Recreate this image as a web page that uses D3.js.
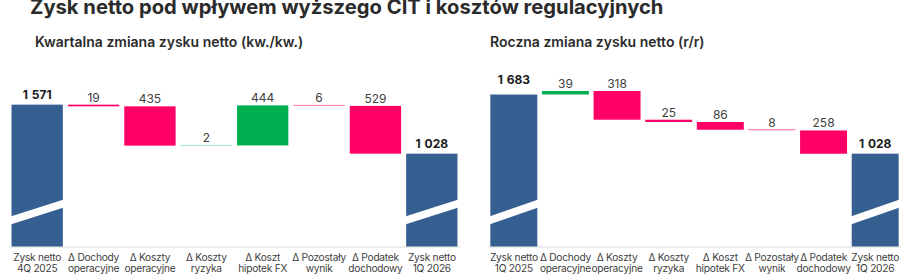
<!DOCTYPE html>
<meta charset="utf-8">
<style>
  body { margin: 0; background: #fff; font-family: Inter, "Noto Sans", sans-serif; }
  .title { font-size: 20.2px; font-weight: 700; fill: #2b2b2b; }
  .subtitle { font-size: 14px; font-weight: 600; fill: #2b2b2b; }
  .val { font-size: 12px; fill: #404040; }
  .total { font-size: 12px; font-weight: 700; fill: #1a1a1a; word-spacing: 1px; }
  .cat { font-size: 10.2px; fill: #404040; letter-spacing: -0.25px; }
</style>
<body>
<svg id="chart" width="907" height="279"></svg>
<script src="https://d3js.org/d3.v7.min.js"></script>
<script>
  // kw./kw. (quarterly)
  var qCats = [["Zysk netto", "4Q 2025"], ["Δ Dochody", "operacyjne"], ["Δ Koszty", "operacyjne"],
               ["Δ Koszty", "ryzyka"], ["Δ Koszt", "hipotek FX"], ["Δ Pozostały", "wynik"],
               ["Δ Podatek", "dochodowy"], ["Zysk netto", "1Q 2026"]];
  var qValues = [1571, -19, -435, 2, 444, -6, -529, 1028];

  // r/r (yearly)
  var yCats = [["Zysk netto", "1Q 2025"], ["Δ Dochody", "operacyjne"], ["Δ Koszty", "operacyjne"],
               ["Δ Koszty", "ryzyka"], ["Δ Koszt", "hipotek FX"], ["Δ Pozostały", "wynik"],
               ["Δ Podatek", "dochodowy"], ["Zysk netto", "1Q 2026"]];
  var yValues = [1683, 39, -318, -25, -86, -8, -258, 1028];

  var BLUE = "#365f91", RED = "#ff0066", GREEN = "#00b050";
  var base = 246.5;

  var fmt = d3.formatLocale({decimal: ",", thousands: " ", grouping: [3], currency: ["", ""]}).format(",d");

  var svg = d3.select("#chart");

  svg.append("text").attr("class", "title").attr("x", 30).attr("y", 14)
     .text("Zysk netto pod wpływem wyższego CIT i kosztów regulacyjnych");

  var y = d3.scaleLinear().domain([0, 1700]).range([base, base - 1700 * 0.0903]);

  function waterfall(cats, values, x0, x1, title, titleX, firstGap) {
    var g = svg.append("g");
    var n = values.length;

    // running totals
    var steps = [], run = 0;
    values.forEach(function (v, i) {
      if (i == 0 || i == n - 1) {
        steps.push({i: i, v: v, lo: 0, hi: v, total: true});
        run = v;
      } else {
        var a = run, b = run + v;
        steps.push({i: i, v: v, lo: Math.min(a, b), hi: Math.max(a, b), total: false});
        run = b;
      }
    });

    var x = d3.scaleBand().domain(d3.range(n)).range([x0, x1]).paddingInner(0.09).paddingOuter(0.045);

    g.append("text").attr("class", "subtitle").attr("x", titleX).attr("y", 47).text(title);

    var axis = g.append("g").attr("transform", "translate(0," + base + ")")
      .call(d3.axisBottom(x).tickSize(0).tickSizeOuter(0).tickFormat(""));
    axis.select(".domain").attr("stroke", "#d9d9d9").attr("stroke-width", 1);

    g.selectAll("rect.bar").data(steps).enter()
      .append("rect")
      .attr("class", "bar")
      .attr("x", function (d) { return x(d.i); })
      .attr("width", x.bandwidth())
      .attr("y", function (d) {
        var h = y(d.lo) - y(d.hi);
        return h < 1 ? y(d.hi) - 0.5 : y(d.hi);
      })
      .attr("height", function (d) { return Math.max(1, y(d.lo) - y(d.hi)); })
      .attr("fill", function (d) { return d.total ? BLUE : (d.v < 0 ? RED : GREEN); })
      .attr("fill-opacity", function (d) {
        var h = y(d.lo) - y(d.hi);
        return h < 1 ? 0.25 + h * 0.5 : 1;
      });

    // broken-axis marks on total bars
    g.selectAll("path.brk").data(steps.filter(function (d) { return d.total; })).enter()
      .append("path")
      .attr("class", "brk")
      .attr("fill", "#fff")
      .attr("d", function (d) {
        var l = x(d.i) - 1, r = x(d.i) + x.bandwidth() + 1;
        return "M" + l + "," + (base - 22) + "L" + l + "," + (base - 30) +
               "L" + r + "," + (base - 47) + "L" + r + "," + (base - 39) + "Z";
      });

    g.selectAll("text.lbl").data(steps).enter()
      .append("text")
      .attr("class", function (d) { return d.total ? "total" : "val"; })
      .attr("text-anchor", "middle")
      .attr("x", function (d) { return x(d.i) + x.bandwidth() / 2; })
      .attr("y", function (d) { return y(d.hi) - (d.total ? (d.i == 0 ? firstGap : 6) : 3); })
      .text(function (d) { return fmt(Math.abs(d.v)); });

    var cl = g.selectAll("text.cat").data(cats).enter()
      .append("text")
      .attr("class", "cat")
      .attr("text-anchor", "middle")
      .attr("transform", function (d, i) { return "translate(" + (x(i) + x.bandwidth() / 2) + ",261)"; });
    cl.append("tspan").attr("x", 0).attr("y", 0).text(function (d) { return d[0]; });
    cl.append("tspan").attr("x", 0).attr("y", 11).text(function (d) { return d[1]; });
  }

  waterfall(qCats, qValues, 9, 460, "Kwartalna zmiana zysku netto (kw./kw.)", 35, 6);
  waterfall(yCats, yValues, 488, 901, "Roczna zmiana zysku netto (r/r)", 490, 11);
</script>
</body>
